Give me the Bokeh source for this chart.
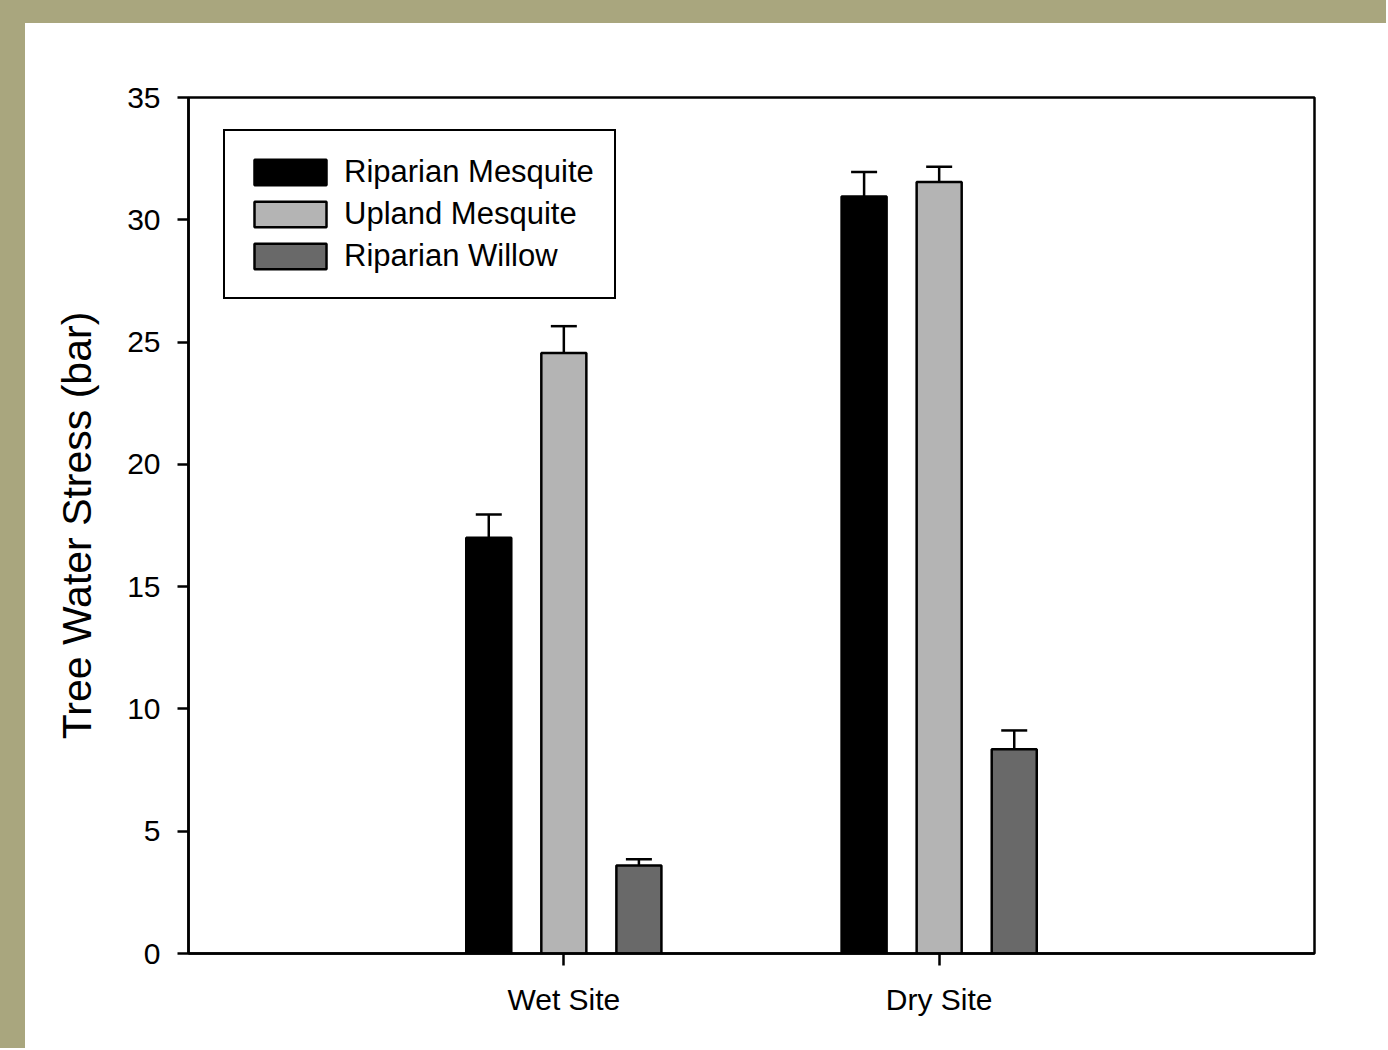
from bokeh.plotting import figure
from bokeh.models import (ColumnDataSource, Range1d, FixedTicker, Whisker, TeeHead,
                          Spacer)
from bokeh.layouts import column, row
from bokeh.embed import file_html
from bokeh.resources import INLINE

# ---- data ----
categories = ["Wet Site", "Dry Site"]
series = ["Riparian Mesquite", "Upland Mesquite", "Riparian Willow"]
riparian_mesquite = [17.0, 30.95]
riparian_mesquite_err = [0.95, 1.0]
upland_mesquite = [24.55, 31.55]
upland_mesquite_err = [1.1, 0.62]
riparian_willow = [3.6, 8.35]
riparian_willow_err = [0.25, 0.77]
y_ticks = [0, 5, 10, 15, 20, 25, 30, 35]

values = [riparian_mesquite, upland_mesquite, riparian_willow]
errors = [riparian_mesquite_err, upland_mesquite_err, riparian_willow_err]
colors = ["#000000", "#B4B4B4", "#696969"]
offsets = [-0.2, 0.0, 0.2]

FONT = "Liberation Sans"
BG = "#A9A67E"

p = figure(width=1361, height=1025, x_range=Range1d(0, 3), y_range=Range1d(0, 35),
           output_backend="svg", toolbar_location=None,
           min_border_left=163, min_border_right=72, min_border_top=74, min_border_bottom=95)
p.title.visible = False
p.background_fill_color = "white"
p.border_fill_color = "white"
p.outline_line_color = "black"
p.outline_line_width = 2.5
p.outline_line_alpha = 1.0
p.xgrid.visible = False
p.ygrid.visible = False

site_pos = [i + 1 for i in range(len(categories))]
for name, vals, errs, col, off in zip(series, values, errors, colors, offsets):
    xs = [s + off for s in site_pos]
    src = ColumnDataSource(dict(x=xs, top=vals, upper=[v + e for v, e in zip(vals, errs)]))
    p.vbar(x="x", top="top", width=0.12, bottom=0, source=src, fill_color=col,
           line_color="black", line_width=2.5, legend_label=name)
    w = Whisker(source=src, base="x", lower="top", upper="upper", dimension="height",
                line_color="black", line_width=2.5,
                upper_head=TeeHead(size=26, line_color="black", line_width=2.5),
                lower_head=None)
    p.add_layout(w)

# axes
for ax in (p.xaxis[0], p.yaxis[0]):
    ax.axis_line_width = 2.5
    ax.axis_line_color = "black"
    ax.major_tick_line_width = 2.5
    ax.major_tick_line_color = "black"
    ax.minor_tick_line_color = None
    ax.major_tick_in = 0
    ax.major_label_text_font = FONT
    ax.major_label_text_font_size = "30px"
    ax.major_label_text_color = "black"

p.xaxis.ticker = FixedTicker(ticks=site_pos)
p.xaxis.major_label_overrides = {s: c for s, c in zip(site_pos, categories)}
p.xaxis.major_tick_out = 12
p.xaxis.major_label_standoff = 17

p.yaxis.ticker = FixedTicker(ticks=y_ticks)
p.yaxis.major_tick_out = 11
p.yaxis.major_label_standoff = 17
p.yaxis.axis_label = "Tree Water Stress (bar)"
p.yaxis.axis_label_text_font = FONT
p.yaxis.axis_label_text_font_size = "41px"
p.yaxis.axis_label_text_font_style = "normal"
p.yaxis.axis_label_text_color = "black"
p.yaxis.axis_label_standoff = 24

# legend
lg = p.legend[0]
lg.location = (35, 654)
lg.border_line_color = "black"
lg.border_line_width = 2.5
lg.border_line_alpha = 1.0
lg.background_fill_color = "white"
lg.background_fill_alpha = 1.0
lg.label_text_font = FONT
lg.label_text_font_size = "31px"
lg.label_text_color = "black"
lg.glyph_width = 90
lg.glyph_height = 32
lg.label_height = 42
lg.label_standoff = 9
lg.padding = 20
lg.spacing = 0

top_band = Spacer(width=1386, height=23, styles={"background-color": BG})
left_band = Spacer(width=25, height=1025, styles={"background-color": BG})
layout = column(top_band, row(left_band, p))

open("out.html", "w").write(file_html(layout, INLINE))
